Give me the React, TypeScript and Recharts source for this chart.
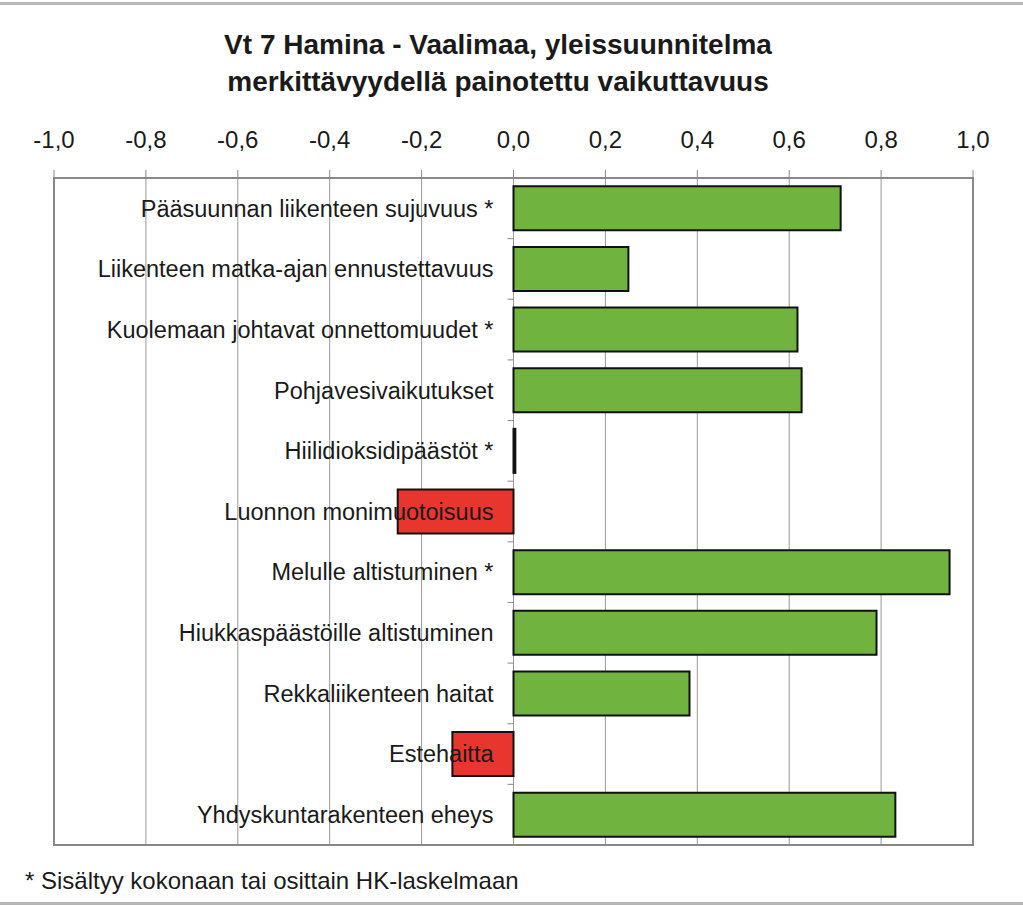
import React from 'react';
import {
  BarChart,
  Bar,
  XAxis,
  YAxis,
  CartesianGrid,
  ReferenceArea,
  LabelList,
  Cell,
} from 'recharts';

const categories = [
  'Pääsuunnan liikenteen sujuvuus *',
  'Liikenteen matka-ajan ennustettavuus ',
  'Kuolemaan johtavat onnettomuudet *',
  'Pohjavesivaikutukset',
  'Hiilidioksidipäästöt *',
  'Luonnon monimuotoisuus',
  'Melulle altistuminen *',
  'Hiukkaspäästöille altistuminen',
  'Rekkaliikenteen haitat',
  'Estehaitta',
  'Yhdyskuntarakenteen eheys',
];
const values = [0.712, 0.25, 0.618, 0.627, 0.004, -0.252, 0.949, 0.79, 0.383, -0.133, 0.831];
const xTicks = [-1, -0.8, -0.6, -0.4, -0.2, 0, 0.2, 0.4, 0.6, 0.8, 1];

const GAP = 0.137;
const font = '"Liberation Sans", Arial, sans-serif';

const fmt = (v: number) => v.toFixed(1).replace('.', ',').replace('-0,0', '0,0');

// zero-valued bar: only used to hang labels and the small axis ticks on the 0 line
const TickShape = (props: any) => {
  const { x, y, height, index } = props;
  const band = height / (1 - 2 * GAP);
  const off = band * GAP;
  return (
    <g>
      <line x1={x - 6} x2={x} y1={y - off} y2={y - off} stroke="#888" strokeWidth={1} />
      {index === categories.length - 1 && (
        <line x1={x - 6} x2={x} y1={y + height + off} y2={y + height + off} stroke="#888" strokeWidth={1} />
      )}
    </g>
  );
};

export default function App() {
  const data = categories.map((name, i) => ({ name, value: values[i], zero: 0 }));
  return (
    <div style={{ position: 'absolute', left: 0, top: 0, width: 1023, height: 906, background: '#fff', fontFamily: font }}>
      <div style={{ position: 'absolute', left: 0, top: 2, width: 1023, height: 3, background: '#b8b8b8' }} />
      <div style={{ position: 'absolute', left: 0, top: 902, width: 1023, height: 3, background: '#b8b8b8' }} />
      <div
        style={{
          position: 'absolute',
          left: 0,
          top: 26,
          width: 996,
          textAlign: 'center',
          fontWeight: 'bold',
          fontSize: 28,
          lineHeight: '37px',
          color: '#1a1a1a',
        }}
      >
        Vt 7 Hamina - Vaalimaa, yleissuunnitelma
        <br />
        merkittävyydellä painotettu vaikuttavuus
      </div>
      <BarChart
        width={1023}
        height={906}
        data={data}
        layout="vertical"
        barCategoryGap={`${GAP * 100}%`}
        margin={{ top: 118, right: 50, bottom: 61, left: 54 }}
      >
        <CartesianGrid horizontal={false} stroke="#999" strokeWidth={1} />
        <XAxis
          type="number"
          orientation="top"
          domain={[-1, 1]}
          ticks={xTicks}
          tickFormatter={fmt}
          height={60}
          axisLine={false}
          tickSize={8}
          tickMargin={22}
          tickLine={{ stroke: '#888' }}
          tick={{ fill: '#1a1a1a', fontSize: 24, fontFamily: font }}
          interval={0}
        />
        <YAxis type="category" dataKey="name" hide />
        <YAxis type="category" dataKey="name" yAxisId="lab" hide />
        <ReferenceArea x1={-1} x2={1} fill="none" stroke="#888" strokeWidth={2} ifOverflow="visible" />
        <Bar dataKey="value" stroke="#111" strokeWidth={2} isAnimationActive={false}>
          {data.map((d, i) => (
            <Cell key={`c-${i}`} fill={d.value < 0 ? '#e8352e' : '#70b33f'} />
          ))}
        </Bar>
        <Bar dataKey="zero" yAxisId="lab" isAnimationActive={false} shape={<TickShape />}>
          <LabelList
            dataKey="name"
            position="left"
            offset={20}
            fill="#1a1a1a"
            fontSize={23.5}
            fontFamily={font}
          />
        </Bar>
      </BarChart>
      <div style={{ position: 'absolute', left: 25, top: 867, fontSize: 24, color: '#1a1a1a' }}>
        * Sisältyy kokonaan tai osittain HK-laskelmaan
      </div>
    </div>
  );
}
